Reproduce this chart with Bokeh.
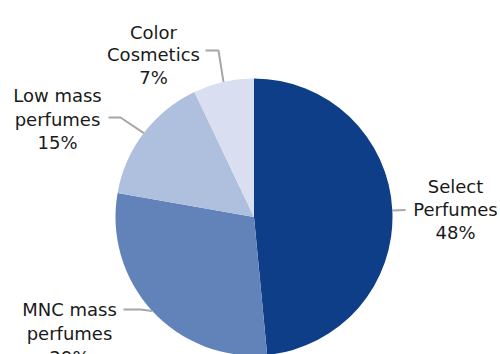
import math
from bokeh.plotting import figure
from bokeh.models import Range1d
from bokeh.core.properties import value
from bokeh.embed import file_html
from bokeh.resources import INLINE

# data
categories = ["Select Perfumes", "MNC mass perfumes", "Low mass perfumes", "Color Cosmetics"]
shares = [48, 29, 15, 7]
colors = ["#0e3e88", "#6282ba", "#afc0de", "#d9dff0"]
label_lines = [["Select", "Perfumes", "48%"],
               ["MNC mass", "perfumes", "29%"],
               ["Low mass", "perfumes", "15%"],
               ["Color", "Cosmetics", "7%"]]

W, H = 500, 354
p = figure(width=W, height=H, output_backend="svg", toolbar_location=None,
           x_range=Range1d(0, W), y_range=Range1d(0, H),
           x_axis_type=None, y_axis_type=None, min_border=0)
p.outline_line_color = None
p.grid.visible = False
p.background_fill_color = "white"
p.border_fill_color = "white"

def Y(py):
    return H - py

cx, cy, r = 253.5, Y(216.5), 138.5
total = sum(shares)

# wedges: start at 12 o'clock, clockwise
cum = 0.0
mids = []
for s, c in zip(shares, colors):
    a0 = math.pi / 2 - 2 * math.pi * (cum + s) / total
    a1 = math.pi / 2 - 2 * math.pi * cum / total
    p.wedge(x=cx, y=cy, radius=r, start_angle=a0, end_angle=a1,
            fill_color=c, line_color=None)
    mids.append((a0 + a1) / 2)
    cum += s

def edge(a):
    return cx + r * math.cos(a), cy + r * math.sin(a)

# leader lines (elbow + end positions are layout)
line_col = "#a6a6a6"
elbows = [
    [(405, 209.5)],
    [(140, 309), (123, 309)],
    [(120, 117), (108, 117)],
    [(218, 50), (205, 50)],
]
for a, pts in zip(mids, elbows):
    ex, ey = edge(a)
    xs = [ex] + [q[0] for q in pts]
    ys = [ey] + [Y(q[1]) for q in pts]
    p.line(xs, ys, line_color=line_col, line_width=2)

# labels
label_pos = [
    (455, [186, 209, 232]),
    (69, [309, 333, 357]),
    (57, [95, 119, 142]),
    (153, [32, 54, 77]),
]
for lines, (lx, bys) in zip(label_lines, label_pos):
    for t, by in zip(lines, bys):
        p.text(x=[lx], y=[Y(by)], text=[t], text_align="center",
               text_baseline="alphabetic", text_font=value("DejaVu Sans"),
               text_font_size="18px", text_color="#1a1a1a")

open("out.html", "w").write(file_html(p, INLINE))
